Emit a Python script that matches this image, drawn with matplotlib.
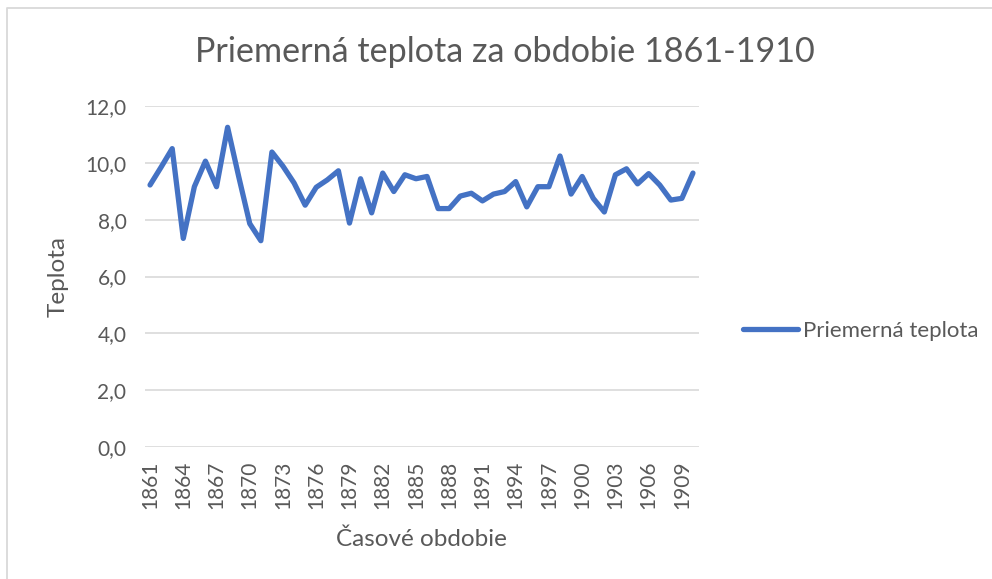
import matplotlib
matplotlib.use("Agg")
from matplotlib import pyplot as plt
from matplotlib.lines import Line2D
from matplotlib.ticker import FuncFormatter

plt.rcParams['font.family'] = ['Lato', 'DejaVu Sans']

years = list(range(1861, 1911))
teplota = [
    9.22, 9.85, 10.50, 7.34, 9.16, 10.06, 9.16, 11.25, 9.52, 7.86,
    7.26, 10.38, 9.88, 9.29, 8.51, 9.14, 9.40, 9.72, 7.88, 9.44,
    8.24, 9.64, 8.99, 9.58, 9.44, 9.52, 8.39, 8.39, 8.83, 8.93,
    8.66, 8.90, 8.99, 9.34, 8.45, 9.16, 9.16, 10.24, 8.90, 9.52,
    8.75, 8.27, 9.58, 9.79, 9.26, 9.62, 9.22, 8.69, 8.75, 9.64,
]
tick_years = years[::3]

title = "Priemerná teplota za obdobie 1861-1910"
series_name = "Priemerná teplota"

text_color = "#595959"
grid_color = "#d9d9d9"
line_color = "#4472C4"

W, H = 992, 579
fig = plt.figure(figsize=(W / 100, H / 100), dpi=100)

# light frame of the chart area (left and top edges only)
fig.lines.append(Line2D([6.5 / W, 6.5 / W, 1.0], [0.0, 1 - 8 / H, 1 - 8 / H],
                        transform=fig.transFigure, color=grid_color, linewidth=1.3))

ax = fig.add_axes([144.5 / W, 1 - 447 / H, 554 / W, 341 / H])
ax.plot(years, teplota, color=line_color, linewidth=3.8,
        solid_joinstyle='round', solid_capstyle='round', label=series_name)

ax.set_xlim(1860.5, 1910.5)
ax.set_ylim(0, 12)
ax.set_yticks(range(0, 13, 2))
ax.yaxis.set_major_formatter(FuncFormatter(lambda v, p: f"{v:.1f}".replace(".", ",")))
ax.set_xticks(tick_years)
ax.set_xticklabels([str(y) for y in tick_years], rotation=90)

for s in ax.spines.values():
    s.set_visible(False)
ax.grid(axis='y', color=grid_color, linewidth=1.2)
ax.set_axisbelow(True)
ax.tick_params(length=0, labelsize=15, colors=text_color)
ax.tick_params(axis='y', pad=13)
ax.tick_params(axis='x', pad=10)

ax.set_ylabel("Teplota", fontsize=17.5, color=text_color, labelpad=12)
ax.set_xlabel("Časové obdobie", fontsize=17.5, color=text_color, labelpad=14)

fig.text(505 / W, 1 - 52 / H, title, ha='center', va='center', fontsize=24.6, color=text_color)

ax.legend(loc='center left', bbox_to_anchor=(1.045, 0.34), frameon=False,
          fontsize=16, handlelength=2.45, handletextpad=0.22, labelcolor=text_color)

fig.savefig("out.png", dpi=100)
